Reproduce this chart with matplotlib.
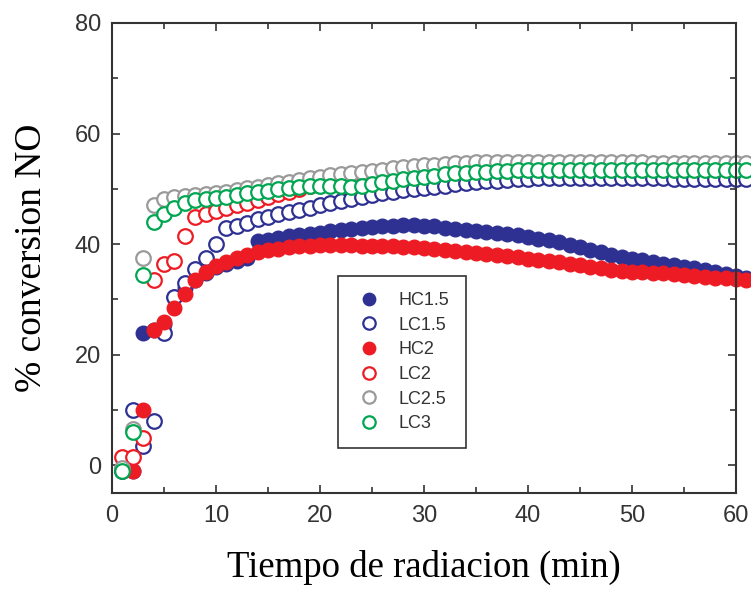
import numpy as np
import matplotlib.pyplot as plt
from matplotlib.ticker import MultipleLocator

# time in minutes, one reading per minute
t = list(range(1, 62))

hc15 = [-0.5, -1, 24, 24.5, 25.5, 30.5, 32, 33.5, 34.8, 35.8,
        36.5, 37, 37.5, 40.5, 40.8, 41.1, 41.4, 41.7, 41.9, 42.1,
        42.3, 42.5, 42.7, 42.9, 43.1, 43.2, 43.3, 43.4, 43.4, 43.3,
        43.2, 43.0, 42.8, 42.6, 42.4, 42.2, 42.0, 41.8, 41.6, 41.3,
        41.0, 40.7, 40.3, 39.9, 39.5, 39.0, 38.5, 38.0, 37.7, 37.4,
        37.1, 36.8, 36.5, 36.2, 35.9, 35.6, 35.3, 35.0, 34.6, 34.2, 33.9]

lc15 = [-1, 10, 3.5, 8, 24, 30.5, 33, 35.5, 37.5, 40,
        43, 43.3, 43.8, 44.6, 45.0, 45.4, 45.8, 46.2, 46.6, 47.0,
        47.4, 47.8, 48.2, 48.6, 48.9, 49.2, 49.5, 49.8, 50.0, 50.2,
        50.4, 50.6, 50.8, 51.0, 51.2, 51.4, 51.5, 51.6, 51.7, 51.8,
        51.9, 52.0, 52.0, 52.0, 52.0, 52.0, 52.0, 52.0, 51.9, 51.9,
        51.9, 51.9, 51.9, 51.8, 51.8, 51.8, 51.8, 51.8, 51.8, 51.8, 51.8]

hc2 = [-1, -1, 10, 24.5, 26, 28.5, 31, 33.5, 35, 36,
       36.8, 37.5, 38, 38.5, 38.9, 39.2, 39.4, 39.6, 39.7, 39.8,
       39.8, 39.8, 39.8, 39.7, 39.7, 39.6, 39.6, 39.5, 39.4, 39.3,
       39.1, 39.0, 38.8, 38.6, 38.4, 38.2, 38.0, 37.8, 37.6, 37.4,
       37.2, 37.0, 36.8, 36.5, 36.2, 35.9, 35.6, 35.4, 35.2, 35.0,
       34.9, 34.8, 34.7, 34.6, 34.5, 34.3, 34.1, 33.9, 33.8, 33.7, 33.6]

lc2 = [1.5, 1.5, 5, 33.5, 36.5, 37, 41.5, 45, 45.5, 46,
       46.5, 47, 47.5, 48, 48.5, 49, 49.5, 50, 50.5, 51,
       51.5, 52, 52.3, 52.6, 52.9, 53.1, 53.3, 53.5, 53.7, 53.9,
       54.0, 54.1, 54.2, 54.3, 54.3, 54.4, 54.4, 54.4, 54.4, 54.4,
       54.4, 54.4, 54.4, 54.3, 54.3, 54.3, 54.3, 54.2, 54.2, 54.2,
       54.2, 54.2, 54.1, 54.1, 54.1, 54.1, 54.1, 54.1, 54.1, 54.1, 54.1]

lc25 = [-0.5, 6.5, 37.5, 47, 48.2, 48.5, 48.7, 48.9, 49.1, 49.3,
        49.5, 49.8, 50.1, 50.4, 50.7, 51.0, 51.3, 51.6, 51.9, 52.2,
        52.5, 52.7, 52.9, 53.1, 53.3, 53.5, 53.7, 53.9, 54.1, 54.3,
        54.4, 54.5, 54.6, 54.7, 54.8, 54.8, 54.9, 54.9, 54.9, 54.9,
        54.9, 54.9, 54.9, 54.9, 54.8, 54.8, 54.8, 54.8, 54.8, 54.8,
        54.8, 54.7, 54.7, 54.7, 54.7, 54.7, 54.7, 54.7, 54.7, 54.7, 54.7]

lc3 = [-1, 6, 34.5, 44, 45.4, 46.5, 47.5, 48, 48.2, 48.4,
       48.6, 48.9, 49.2, 49.4, 49.6, 49.9, 50.1, 50.3, 50.5, 50.6,
       50.6, 50.5, 50.4, 50.6, 50.9, 51.2, 51.5, 51.8, 52.0, 52.2,
       52.4, 52.6, 52.8, 52.9, 53.0, 53.1, 53.2, 53.3, 53.4, 53.4,
       53.5, 53.5, 53.5, 53.5, 53.5, 53.5, 53.5, 53.5, 53.5, 53.5,
       53.5, 53.5, 53.5, 53.5, 53.5, 53.5, 53.5, 53.5, 53.5, 53.5, 53.5]

blue = "#2e3192"
red = "#ed1c24"
gray = "#9a9a9a"
green = "#00a651"

fig = plt.figure(figsize=(7.51, 5.89), dpi=100)
ax = fig.add_axes([0.149, 0.163, 0.831, 0.798])

ms = 10.5
mew = 1.6
ax.plot(t, hc15, "o", ms=ms, color=blue, mec=blue, label="HC1.5", clip_on=False)
ax.plot(t, lc15, "o", ms=ms, mfc="white", mec=blue, mew=mew, label="LC1.5", clip_on=False)
ax.plot(t, hc2, "o", ms=ms, color=red, mec=red, label="HC2", clip_on=False)
ax.plot(t, lc2, "o", ms=ms, mfc="white", mec=red, mew=mew, label="LC2", clip_on=False)
ax.plot(t, lc25, "o", ms=ms, mfc="white", mec=gray, mew=mew, label="LC2.5", clip_on=False)
ax.plot(t, lc3, "o", ms=ms, mfc="white", mec=green, mew=mew, label="LC3", clip_on=False)

ax.set_xlim(0, 60)
ax.set_ylim(-5, 80)
ax.xaxis.set_major_locator(MultipleLocator(10))
ax.xaxis.set_minor_locator(MultipleLocator(5))
ax.yaxis.set_major_locator(MultipleLocator(20))
ax.yaxis.set_minor_locator(MultipleLocator(10))
ax.tick_params(which="both", direction="in", top=True, right=True,
               colors="#333333", labelcolor="#333333", width=1.2)
ax.tick_params(which="major", length=6, labelsize=17)
ax.tick_params(axis="x", which="major", pad=9)
ax.tick_params(axis="y", which="major", pad=8)
ax.tick_params(which="minor", length=4)
for lab in ax.get_xticklabels() + ax.get_yticklabels():
    lab.set_family("Liberation Sans")
for s in ax.spines.values():
    s.set_color("#333333")
    s.set_linewidth(1.5)

ax.set_xlabel("Tiempo de radiacion (min)", family="Liberation Serif", fontsize=26.5, labelpad=16)
ax.set_ylabel("% conversion NO", family="Liberation Serif", fontsize=27, labelpad=18)

leg = ax.legend(loc="lower left", bbox_to_anchor=(0.363, 0.095), fancybox=False,
                edgecolor="#333333", framealpha=1, markerscale=0.85,
                prop={"family": "Liberation Sans", "size": 13},
                handlelength=1.6, handletextpad=0.85, borderpad=0.9,
                labelspacing=0.42, borderaxespad=0)
leg.get_frame().set_linewidth(1.2)
for txt in leg.get_texts():
    txt.set_color("#333333")

fig.savefig("out.png", dpi=100)
